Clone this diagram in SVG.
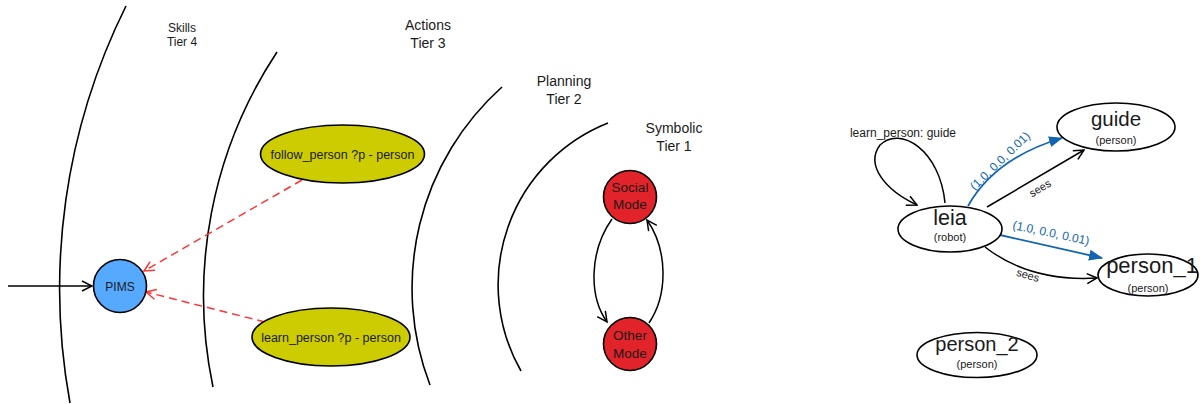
<svg xmlns="http://www.w3.org/2000/svg" width="1200" height="404" viewBox="0 0 1200 404">
<style>
text{font-family:"Liberation Sans",Arial,sans-serif;fill:#1a1a1a;text-anchor:middle}
.arc{fill:none;stroke:#000;stroke-width:1.6}
.node{stroke:#000;stroke-width:1.6}
.edge{fill:none;stroke:#000;stroke-width:1.5}
.red{fill:none;stroke:#ff3333;stroke-width:1.5;stroke-dasharray:8 5}
.blue{fill:none;stroke:#1464b4;stroke-width:1.8}
.tier{font-size:14px}
.lbl{font-size:11px}
.big{font-size:21px}
.sub{font-size:11px}
</style>
<defs>
<marker id="open" markerUnits="userSpaceOnUse" viewBox="0 0 12 12" refX="11" refY="6" markerWidth="12" markerHeight="12" orient="auto">
<path d="M1,1 L11,6 L1,11" fill="none" stroke="#000" stroke-width="1.5"/>
</marker>
<marker id="openRed" markerUnits="userSpaceOnUse" viewBox="0 0 12 12" refX="11" refY="6" markerWidth="12" markerHeight="12" orient="auto">
<path d="M1,1 L11,6 L1,11" fill="none" stroke="#ff3333" stroke-width="1.5"/>
</marker>
<marker id="fillBlue" markerUnits="userSpaceOnUse" viewBox="0 0 14 12" refX="13" refY="6" markerWidth="14" markerHeight="12" orient="auto">
<path d="M0,0.5 L14,6 L0,11.5 z" fill="#1464b4"/>
</marker>
</defs>
<g id="tiers">
<path class="arc" d="M126,6 A635,635 0 0 0 70,403"/>
<path class="arc" d="M277,52 A442,442 0 0 0 213,387"/>
<path class="arc" d="M502,87 A270,270 0 0 0 430,385"/>
<path class="arc" d="M608,123 A174,174 0 0 0 521,371"/>
<text x="182" y="32" style="font-size:12px">Skills</text>
<text x="182" y="46" style="font-size:12px">Tier 4</text>
<text class="tier" x="428" y="30">Actions</text>
<text class="tier" x="428" y="48">Tier 3</text>
<text class="tier" x="564" y="86">Planning</text>
<text class="tier" x="564" y="104">Tier 2</text>
<text class="tier" x="674" y="133">Symbolic</text>
<text class="tier" x="674" y="151">Tier 1</text>
</g>
<g id="connectors">
<path class="edge" d="M8,286 L92,286" marker-end="url(#open)"/>
<path class="red" d="M302,180 L144,271" marker-end="url(#openRed)"/>
<path class="red" d="M265,322 L146,292" marker-end="url(#openRed)"/>
<path class="edge" d="M612,219 C590,250 588,295 607,322" marker-end="url(#open)"/>
<path class="edge" d="M649,323 C668,295 668,250 647,220" marker-end="url(#open)"/>
<path class="edge" d="M945,203 C940,150 900,125 880,145 C865,165 885,190 917,205" marker-end="url(#open)"/>
<text x="903" y="137" style="font-size:12px">learn_person: guide</text>
<path class="blue" d="M968,206 Q995,158 1062,138" marker-end="url(#fillBlue)"/>
<text x="1000" y="165" transform="rotate(-44 1000 161)" style="font-size:12px;fill:#1464b4">(1.0, 0.0, 0.01)</text>
<path class="edge" d="M987,207 L1084,150" marker-end="url(#open)"/>
<text class="lbl" x="1040" y="192" transform="rotate(-31 1040 188)">sees</text>
<path class="blue" d="M1000,235 L1102,258" marker-end="url(#fillBlue)"/>
<text x="1051" y="237" transform="rotate(12 1051 233)" style="font-size:12px;fill:#1464b4">(1.0, 0.0, 0.01)</text>
<path class="edge" d="M985,247 Q1030,282 1097,278" marker-end="url(#open)"/>
<text class="lbl" x="1028" y="279" transform="rotate(17 1028 275)">sees</text>
</g>
<g id="PIMS">
<circle class="node" cx="120" cy="286" r="26.5" fill="#55aaff"/>
<text x="120" y="290.5" style="font-size:12px">PIMS</text>
</g>
<g id="follow_person">
<ellipse class="node" cx="342.5" cy="154" rx="82" ry="29" fill="#cccc00"/>
<text x="342.5" y="158.5" style="font-size:12.5px">follow_person ?p - person</text>
</g>
<g id="learn_person">
<ellipse class="node" cx="331" cy="337" rx="79" ry="29" fill="#cccc00"/>
<text x="331" y="341.5" style="font-size:12.5px">learn_person ?p - person</text>
</g>
<g id="social_mode">
<circle class="node" cx="630" cy="197" r="26.5" fill="#e3232a"/>
<text x="630" y="191.5" style="font-size:13.5px">Social</text>
<text x="630" y="209" style="font-size:13.5px">Mode</text>
</g>
<g id="other_mode">
<circle class="node" cx="630" cy="344" r="26.5" fill="#e3232a"/>
<text x="630" y="340" style="font-size:13.5px">Other</text>
<text x="630" y="357.5" style="font-size:13.5px">Mode</text>
</g>
<g id="leia">
<ellipse class="node" cx="950" cy="229" rx="52" ry="23" fill="#fff"/>
<text x="950" y="224.5" style="font-size:21.5px">leia</text>
<text class="sub" x="950" y="241">(robot)</text>
</g>
<g id="guide">
<ellipse class="node" cx="1116" cy="127" rx="59" ry="24" fill="#fff"/>
<text x="1116" y="126" style="font-size:20.5px">guide</text>
<text class="sub" x="1116" y="144">(person)</text>
</g>
<g id="person_1">
<ellipse class="node" cx="1148" cy="275" rx="50" ry="21" fill="#fff"/>
<text x="1152" y="273" style="font-size:22px">person_1</text>
<text class="sub" x="1148" y="292">(person)</text>
</g>
<g id="person_2">
<ellipse class="node" cx="977" cy="355" rx="60" ry="22.5" fill="#fff"/>
<text x="977" y="351" style="font-size:20px">person_2</text>
<text class="sub" x="977" y="368">(person)</text>
</g>
</svg>
